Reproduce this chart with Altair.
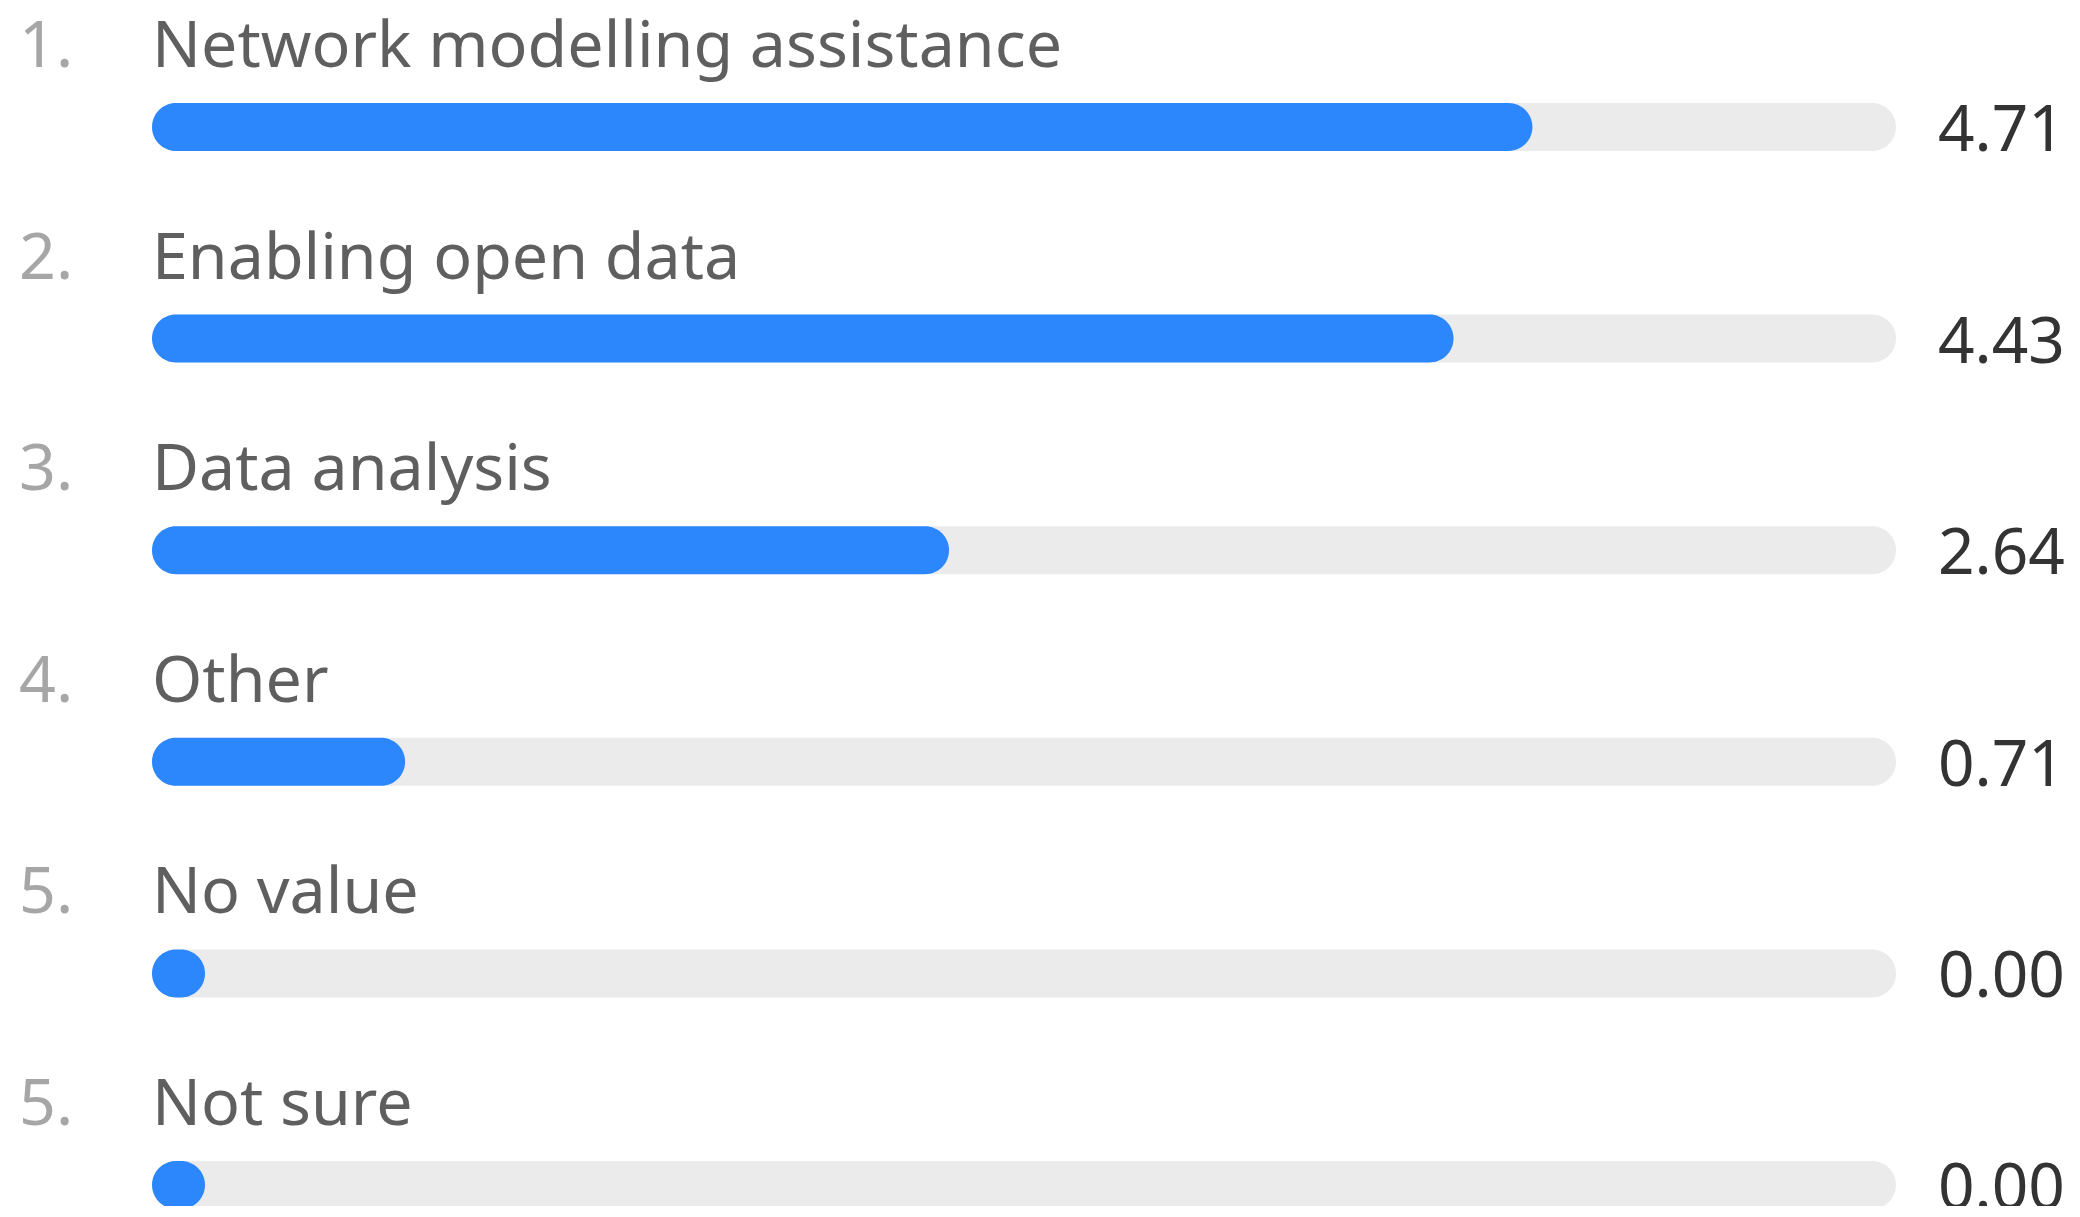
import altair as alt
import pandas as pd

ranks = ["1.", "2.", "3.", "4.", "5.", "5."]
labels = ["Network modelling assistance", "Enabling open data", "Data analysis",
          "Other", "No value", "Not sure"]
values = [4.71, 4.43, 2.64, 0.71, 0.00, 0.00]
SCALE_MAX = 6

df = pd.DataFrame({
    "row": list(range(len(labels))),
    "rank": ranks,
    "label": labels,
    "value": values,
    "zero": [0] * len(labels),
    "maxv": [SCALE_MAX] * len(labels),
})

FONT = "Noto Sans"
xs = alt.Scale(domain=[0, SCALE_MAX], range=[144, 1835], nice=False, zero=False)
ys = alt.Scale(domain=[0, len(labels) - 1], range=[114, 1182], nice=False, zero=False)
Y = alt.Y("row:Q", scale=ys, axis=None)

base = alt.Chart(df)

track = base.mark_bar(size=48, cornerRadius=24, color="#EBEBEB", orient="horizontal",
                      x2Offset=53).encode(
    x=alt.X("zero:Q", scale=xs, axis=None),
    x2="maxv:Q",
    y=Y,
)

bar = base.mark_bar(size=48, cornerRadius=24, color="#2C87FD", orient="horizontal",
                    x2Offset=53).encode(
    x=alt.X("zero:Q", scale=xs, axis=None),
    x2="value:Q",
    y=Y,
)

rank_txt = base.mark_text(font=FONT, fontSize=64.5, color="#A6A6A6", align="left",
                          baseline="alphabetic", yOffset=-60).encode(
    x=alt.value(11),
    y=Y,
    text="rank:N",
)

label_txt = base.mark_text(font=FONT, fontSize=64.5, color="#5F5F5F", align="left",
                           baseline="alphabetic", yOffset=-60).encode(
    x=alt.value(144),
    y=Y,
    text="label:N",
)

value_txt = base.mark_text(font=FONT, fontSize=64, color="#333333", align="left",
                           baseline="alphabetic", yOffset=24).encode(
    x=alt.value(1930),
    y=Y,
    text=alt.Text("value:Q", format=".2f"),
)

chart = alt.layer(track, bar, rank_txt, label_txt, value_txt).properties(
    width=2064, height=1198,
    autosize=alt.AutoSizeParams(type="none"),
    padding=0,
).configure_view(stroke=None)

chart.save("out.html", embed_options={"renderer": "svg", "actions": False})
